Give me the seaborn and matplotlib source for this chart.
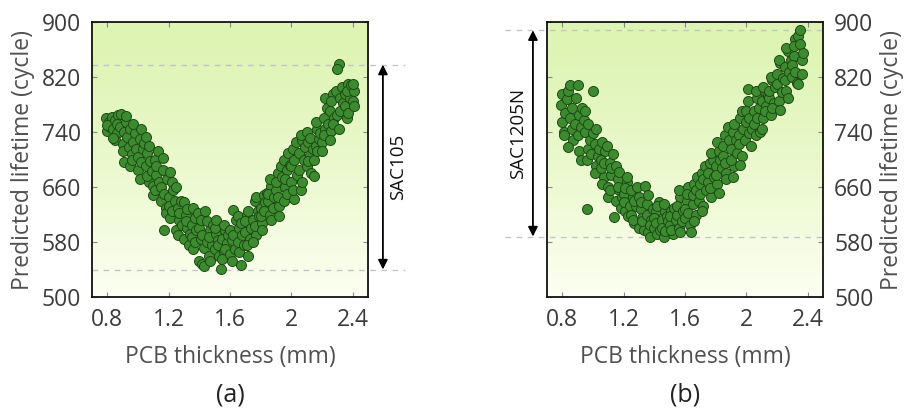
import numpy as np
import pandas as pd
import matplotlib
matplotlib.use("Agg")
import matplotlib.pyplot as plt
import seaborn as sns

# ---- data: PCB thickness (mm) vs predicted lifetime (cycles) ----
thick_sac105 = [
    0.79, 0.80, 0.81, 0.82, 0.83, 0.80,
    0.84, 0.85, 0.86, 0.87, 0.85, 0.86, 0.88, 0.84,
    0.89, 0.90, 0.91, 0.92, 0.90, 0.93, 0.91, 0.92, 0.94,
    0.95, 0.96, 0.97, 0.95, 0.98, 0.96, 0.97, 0.99,
    1.00, 1.01, 1.02, 1.00, 1.03, 1.01, 1.02, 1.04,
    1.05, 1.06, 1.07, 1.05, 1.08, 1.06, 1.07, 1.09,
    1.10, 1.11, 1.12, 1.10, 1.13, 1.11, 1.12, 1.14,
    1.15, 1.16, 1.17, 1.15, 1.18, 1.16, 1.17, 1.19, 1.18,
    1.20, 1.21, 1.22, 1.20, 1.23, 1.21, 1.22, 1.24,
    1.25, 1.26, 1.27, 1.25, 1.28, 1.26, 1.27, 1.29,
    1.30, 1.31, 1.32, 1.30, 1.33, 1.31, 1.32, 1.34,
    1.35, 1.36, 1.37, 1.35, 1.38, 1.36, 1.37, 1.39,
    1.40, 1.41, 1.42, 1.40, 1.43, 1.41, 1.42, 1.44, 1.43,
    1.45, 1.46, 1.47, 1.45, 1.48, 1.46, 1.47, 1.49,
    1.50, 1.51, 1.52, 1.50, 1.53, 1.51, 1.52, 1.54,
    1.55, 1.56, 1.57, 1.55, 1.58, 1.56, 1.57, 1.59,
    1.60, 1.61, 1.62, 1.60, 1.63, 1.61, 1.62, 1.64,
    1.65, 1.66, 1.67, 1.65, 1.68, 1.66, 1.67, 1.69,
    1.70, 1.71, 1.72, 1.70, 1.73, 1.71, 1.72, 1.74,
    1.75, 1.76, 1.77, 1.75, 1.78, 1.76, 1.77, 1.79,
    1.80, 1.81, 1.82, 1.80, 1.83, 1.81, 1.82, 1.84,
    1.85, 1.86, 1.87, 1.85, 1.88, 1.86, 1.87, 1.89,
    1.90, 1.91, 1.92, 1.90, 1.93, 1.91, 1.92, 1.94,
    1.95, 1.96, 1.97, 1.95, 1.98, 1.96, 1.97, 1.99,
    2.00, 2.01, 2.02, 2.00, 2.03, 2.01, 2.02, 2.04,
    2.05, 2.06, 2.07, 2.05, 2.08, 2.06, 2.07, 2.09,
    2.10, 2.11, 2.12, 2.10, 2.13, 2.11, 2.12, 2.14,
    2.15, 2.16, 2.17, 2.15, 2.18, 2.16, 2.17, 2.19,
    2.20, 2.21, 2.22, 2.20, 2.23, 2.21, 2.22, 2.24,
    2.25, 2.26, 2.27, 2.25, 2.28, 2.26, 2.27, 2.29,
    2.30, 2.31, 2.30, 2.32, 2.31, 2.33, 2.32, 2.34,
    2.35, 2.36, 2.37, 2.35, 2.38, 2.36, 2.37, 2.39,
    2.40, 2.41, 2.40, 2.41,
]
life_sac105 = [
    760, 742, 755, 748, 762, 750,
    745, 758, 738, 765, 728, 752, 748, 731,
    766, 722, 740, 755, 712, 733, 697, 764, 718,
    745, 708, 725, 690, 738, 700, 752, 715,
    703, 730, 744, 685, 715, 672, 696, 724,
    690, 710, 668, 733, 698, 676, 720, 684,
    662, 700, 678, 648, 712, 655, 690, 668,
    640, 685, 597, 660, 630, 702, 650, 672, 622,
    645, 615, 668, 632, 655, 682, 625, 640,
    598, 630, 612, 660, 640, 590, 622, 605,
    585, 620, 600, 638, 575, 610, 628, 592,
    605, 570, 615, 588, 598, 630, 580, 622,
    552, 585, 548, 600, 572, 612, 590, 625, 545,
    580, 560, 598, 610, 575, 588, 552, 605,
    570, 592, 583, 600, 560, 612, 575, 541,
    585, 565, 598, 555, 578, 605, 570, 590,
    562, 583, 627, 598, 570, 552, 590, 612,
    580, 600, 547, 618, 590, 565, 608, 575,
    595, 620, 560, 610, 585, 575, 625, 600,
    612, 640, 590, 580, 625, 603, 645, 618,
    630, 608, 648, 618, 638, 598, 625, 652,
    640, 620, 662, 650, 630, 672, 612, 645,
    655, 680, 632, 668, 690, 645, 618, 675,
    700, 660, 685, 640, 710, 672, 650, 692,
    668, 715, 642, 690, 725, 655, 700, 678,
    710, 655, 728, 685, 700, 735, 668, 718,
    690, 725, 706, 740, 680, 698, 732, 715,
    676, 720, 745, 700, 730, 755, 712, 738,
    725, 760, 745, 712, 775, 735, 790, 752,
    770, 742, 795, 728, 760, 785, 752, 800,
    765, 839, 832, 790, 745, 805, 770, 782,
    795, 760, 810, 778, 790, 800, 768, 808,
    785, 800, 810, 778,
]

thick_sac1205n = [
    0.79, 0.80, 0.81, 0.80, 0.82, 0.81, 0.83,
    0.84, 0.85, 0.86, 0.85, 0.87, 0.86, 0.84, 0.88,
    0.89, 0.90, 0.91, 0.90, 0.92, 0.91, 0.93, 0.92, 0.94,
    0.95, 0.96, 0.97, 0.95, 0.98, 0.96, 0.97, 0.99,
    1.00, 1.01, 1.02, 1.00, 1.03, 1.01, 1.02, 1.04,
    1.05, 1.06, 1.07, 1.05, 1.08, 1.06, 1.07, 1.09,
    1.10, 1.11, 1.12, 1.10, 1.13, 1.11, 1.14, 1.12,
    1.15, 1.16, 1.17, 1.15, 1.18, 1.16, 1.17, 1.19,
    1.20, 1.21, 1.22, 1.20, 1.23, 1.21, 1.22, 1.24,
    1.25, 1.26, 1.27, 1.25, 1.28, 1.26, 1.27, 1.29,
    1.30, 1.31, 1.32, 1.30, 1.33, 1.31, 1.32, 1.34,
    1.35, 1.36, 1.37, 1.35, 1.38, 1.36, 1.37, 1.39,
    1.40, 1.41, 1.42, 1.40, 1.43, 1.41, 1.42, 1.44,
    1.45, 1.46, 1.47, 1.45, 1.48, 1.46, 1.47, 1.49,
    1.50, 1.51, 1.52, 1.50, 1.53, 1.51, 1.54,
    1.55, 1.56, 1.57, 1.55, 1.58, 1.56, 1.57, 1.59,
    1.60, 1.61, 1.62, 1.60, 1.63, 1.61, 1.62, 1.64,
    1.65, 1.66, 1.67, 1.65, 1.68, 1.66, 1.67, 1.69,
    1.70, 1.71, 1.72, 1.70, 1.73, 1.71, 1.72, 1.74,
    1.75, 1.76, 1.77, 1.75, 1.78, 1.76, 1.77, 1.79,
    1.80, 1.81, 1.82, 1.80, 1.83, 1.81, 1.82, 1.84,
    1.85, 1.86, 1.87, 1.85, 1.88, 1.86, 1.87, 1.89,
    1.90, 1.91, 1.92, 1.90, 1.93, 1.91, 1.92, 1.94,
    1.95, 1.96, 1.97, 1.95, 1.98, 1.96, 1.97, 1.99,
    2.00, 2.01, 2.02, 2.00, 2.03, 2.01, 2.02, 2.04,
    2.05, 2.06, 2.07, 2.05, 2.08, 2.06, 2.07, 2.09,
    2.10, 2.11, 2.12, 2.10, 2.13, 2.11, 2.12, 2.14,
    2.15, 2.16, 2.17, 2.15, 2.18, 2.16, 2.17, 2.19,
    2.20, 2.21, 2.22, 2.20, 2.23, 2.21, 2.22, 2.24,
    2.25, 2.26, 2.27, 2.25, 2.28, 2.26, 2.27, 2.29,
    2.30, 2.31, 2.32, 2.30, 2.33, 2.31, 2.32, 2.34,
    2.35, 2.36, 2.35, 2.36, 2.34, 2.37,
]
life_sac1205n = [
    780, 755, 740, 795, 768, 735, 788,
    800, 760, 745, 808, 728, 775, 718, 752,
    790, 808, 765, 735, 748, 712, 775, 700, 758,
    740, 628, 715, 770, 728, 700, 752, 708,
    799, 722, 690, 738, 705, 680, 745, 715,
    700, 725, 675, 688, 712, 665, 695, 720,
    660, 695, 678, 645, 708, 655, 616, 688,
    640, 672, 655, 690, 630, 660, 682, 645,
    650, 625, 668, 638, 618, 658, 675, 632,
    620, 645, 608, 655, 632, 612, 640, 660,
    600, 628, 615, 645, 598, 638, 610, 662,
    620, 595, 587, 635, 612, 648, 605, 628,
    600, 625, 592, 615, 638, 608, 632, 598,
    612, 588, 625, 600, 618, 635, 596, 610,
    605, 625, 592, 618, 630, 598, 612,
    620, 600, 645, 632, 610, 655, 595, 625,
    615, 640, 660, 628, 605, 650, 622, 595,
    635, 665, 620, 648, 675, 610, 655, 640,
    650, 680, 632, 665, 690, 625, 672, 655,
    668, 695, 645, 680, 700, 658, 710, 675,
    690, 665, 712, 678, 700, 725, 652, 688,
    705, 735, 680, 720, 748, 695, 672, 728,
    715, 740, 690, 700, 728, 675, 752, 710,
    735, 760, 705, 722, 745, 692, 770, 728,
    755, 803, 738, 770, 720, 785, 760, 745,
    770, 735, 790, 752, 775, 800, 760, 740,
    785, 760, 800, 745, 778, 805, 770, 792,
    790, 765, 815, 800, 782, 820, 775, 805,
    810, 785, 840, 825, 798, 845, 772, 818,
    835, 800, 858, 815, 828, 862, 790, 845,
    820, 850, 875, 838, 812, 865, 828, 880,
    888, 845, 868, 825, 810, 855,
]

# range markers (min / max lifetime) for each alloy
range_sac105 = (540, 838)
range_sac1205n = (588, 888)

panel_labels = ["(a)", "(b)"]
alloy_names = ["SAC105", "SAC1205N"]
x_ticks = [0.8, 1.2, 1.6, 2.0, 2.4]
x_tick_labels = ["0.8", "1.2", "1.6", "2", "2.4"]
y_ticks = [500, 580, 660, 740, 820, 900]

sns.set_style("ticks")
plt.rcParams["font.family"] = ["Open Sans", "DejaVu Sans"]

fig = plt.figure(figsize=(9.09, 4.13), dpi=100)
fig.patch.set_facecolor("white")

ax_w, ax_h = 276 / 909, 275 / 413
ax_b = (413 - 297) / 413
ax_a = fig.add_axes([92 / 909, ax_b, ax_w, ax_h])
ax_bp = fig.add_axes([547 / 909, ax_b, ax_w, ax_h])

# vertical light-green gradient used as plot background
top_col = np.array([221, 244, 178]) / 255
bot_col = np.array([253, 255, 242]) / 255
t = np.linspace(0, 1, 256)[:, None]
grad = (top_col[None, :] * (1 - t ** 1.3) + bot_col[None, :] * t ** 1.3)
grad = grad[:, None, :]

label_col = "#505050"
tick_col = "#3c3c3c"
fs = 16.5

datasets = [
    (ax_a, thick_sac105, life_sac105, range_sac105),
    (ax_bp, thick_sac1205n, life_sac1205n, range_sac1205n),
]

for i, (ax, xs, ys, (lo, hi)) in enumerate(datasets):
    df = pd.DataFrame({"thickness": xs, "lifetime": ys})
    ax.imshow(grad, extent=[0.7, 2.5, 500, 900], aspect="auto", zorder=0,
              interpolation="bilinear")
    sns.scatterplot(data=df, x="thickness", y="lifetime", ax=ax,
                    color="#3d8b2f", edgecolor="#1f4a17", linewidth=0.7,
                    s=52, alpha=1.0, zorder=3)
    ax.set_xlim(0.7, 2.5)
    ax.set_ylim(500, 900)
    ax.set_xticks(x_ticks)
    ax.set_xticklabels(x_tick_labels)
    ax.set_yticks(y_ticks)
    ax.tick_params(direction="in", length=3.5, width=0.8, top=True,
                   right=True, left=True, bottom=True, labelsize=fs,
                   colors="#888888", labelcolor=tick_col, pad=8)
    for sp in ax.spines.values():
        sp.set_visible(True)
        sp.set_color("#111111")
        sp.set_linewidth(1.3)
    ax.set_xlabel("PCB thickness (mm)", fontsize=fs, color=label_col,
                  labelpad=9)
    ax.set_ylabel("Predicted lifetime (cycle)", fontsize=fs,
                  color=label_col, labelpad=5)
    ax.text(0.5, -0.355, panel_labels[i], transform=ax.transAxes,
            ha="center", va="center", fontsize=18, color="#222222")

    trans = ax.get_yaxis_transform()
    if i == 0:
        x0, x1, xa, xt = 0.0, 1.134, 1.054, 1.109
    else:
        x0, x1, xa, xt = -0.152, 1.0, -0.051, -0.105
        ax.yaxis.tick_right()
        ax.yaxis.set_label_position("right")
        ax.tick_params(left=True, labelleft=False, labelright=True)
    for yv in (lo, hi):
        ax.plot([x0, x1], [yv, yv], transform=trans, ls=(0, (4, 4)),
                color="#c4c4c4", lw=1.0, clip_on=False, zorder=2)
    ax.annotate("", xy=(xa, hi), xytext=(xa, lo), xycoords=trans,
                textcoords=trans, annotation_clip=False,
                arrowprops=dict(arrowstyle="<|-|>", color="black", lw=1.3,
                                mutation_scale=14, shrinkA=0, shrinkB=0))
    ax.text(xt, (lo + hi) / 2, alloy_names[i], transform=trans,
            rotation=90, ha="center", va="center", fontsize=13.5,
            color="#111111")

fig.savefig("out.png", dpi=100, facecolor="white")
